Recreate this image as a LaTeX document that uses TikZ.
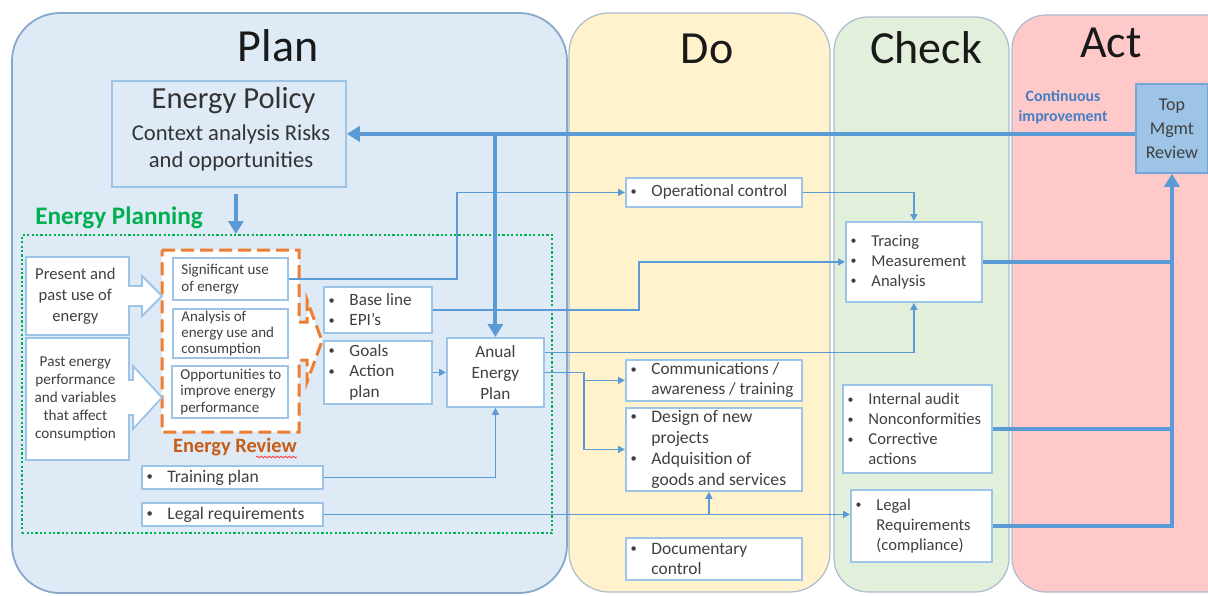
\documentclass[tikz,border=0pt]{standalone}
\usepackage{fontspec}
\usepackage{graphicx}
\setmainfont{Carlito}
\usetikzlibrary{arrows.meta,decorations.pathmorphing}

\definecolor{planbg}{RGB}{222,235,247}
\definecolor{dobg}{RGB}{255,242,204}
\definecolor{checkbg}{RGB}{226,239,218}
\definecolor{actbg}{RGB}{255,201,201}
\definecolor{planedge}{RGB}{135,168,202}
\definecolor{panelline}{RGB}{170,188,206}
\definecolor{boxline}{RGB}{157,195,230}
\definecolor{flow}{RGB}{91,155,213}
\definecolor{txt}{RGB}{64,64,64}
\definecolor{plangreen}{RGB}{0,176,80}
\definecolor{revorange}{RGB}{237,125,49}
\definecolor{revtext}{RGB}{200,92,22}
\definecolor{mgmtfill}{RGB}{157,195,230}
\definecolor{mgmtline}{RGB}{120,165,215}
\definecolor{contblue}{RGB}{68,126,196}

\newcommand\fs[2]{\fontsize{#1}{#2}\selectfont}
\newcommand\bu{\makebox[11pt][l]{\hspace*{0.6pt}\raisebox{0.2ex}{\scalebox{0.72}{\textbullet}}}}
\newcommand\hi{\hspace*{11pt}}
% white box with its corners given in pixel units: name, x1, y1, x2, y2, extra style
\newcommand\tbox[6]{%
  \node[bx,#6,anchor=north west,minimum width={(#4-#2)*0.5pt},minimum height={(#5-#3)*0.5pt}] (#1) at (#2,#3) {};}

\begin{document}
\begin{tikzpicture}[x=0.5pt,y=-0.5pt,
  panel/.style={draw=panelline, line width=0.6pt},
  bx/.style={draw=boxline, fill=white, line width=0.9pt, inner sep=0pt},
  lbl/.style={inner sep=0pt, text=txt, align=left, anchor=west},
  clbl/.style={inner sep=0pt, text=txt, align=center},
  title/.style={font=\fs{23}{28}, text=black!90, anchor=base, inner sep=0pt},
  flowline/.style={draw=flow, line width=0.8pt},
  flowarrow/.style={flowline, -{Triangle[length=3.5pt,width=3.5pt]}},
  bigline/.style={draw=flow, line width=2pt},
  bigarrow/.style={bigline, -{Triangle[length=6.5pt,width=7.5pt]}},
  revdash/.style={draw=revorange, line width=1.5pt, dash pattern=on 6.5pt off 3pt},
]
\useasboundingbox (0,0) rectangle (1208,595);
\clip (0,0) rectangle (1208,595);
\fill[white] (0,0) rectangle (1208,595);

% ---- the four PDCA columns ----
\draw[draw=planedge, line width=0.9pt, fill=planbg, rounded corners=24pt] (12,13) rectangle (567,593);
\draw[panel, fill=dobg, rounded corners=20pt] (569,13) rectangle (830,592);
\draw[panel, fill=checkbg, rounded corners=17pt] (834,17) rectangle (1009,592);
\draw[panel, fill=actbg, rounded corners=17pt] (1012,15) rectangle (1240,592);

\node[title] (tplan) at (278,61) {Plan};
\node[title] (tdo) at (707,63) {Do};
\node[title] (tcheck) at (926,63) {Check};
\node[title] (tact) at (1111,57) {Act};

% ---- energy policy ----
\node[bx, fill=none, anchor=north west, minimum width=117pt, minimum height=53pt] (ep) at (111,80) {};
\node[inner sep=0pt, anchor=base, text=black!80, font=\fs{15.3}{18}] (ep-t1) at (233.5,108) {Energy Policy};
\node[inner sep=0pt, anchor=base, text=black!80, font=\fs{11.3}{13}] (ep-t2) at (231,140) {Context analysis Risks};
\node[inner sep=0pt, anchor=base, text=black!80, font=\fs{11.3}{13}] (ep-t3) at (231,167) {and opportunities};

% ---- energy planning frame ----
\node[draw=plangreen, line width=1.1pt, dash pattern=on 1.1pt off 1.1pt, anchor=north west,
      minimum width=265pt, minimum height=149pt, inner sep=0pt] (epl) at (21,234) {};
\node[inner sep=0pt, anchor=base, text=plangreen, font=\bfseries\fs{12.6}{15}] (epl-t) at (119,224) {Energy Planning};
\draw[bigarrow] ([xshift=3.5pt,yshift=-3pt]ep.south) -- ([xshift=3.5pt]ep.south |- epl.north);

% ---- energy review ----
\draw[revdash, fill=white] (162,250) -- (299,250) -- (299,322) -- (307,322) -- (307,300) -- (322,341)
  -- (307,382) -- (307,360) -- (299,360) -- (299,432) -- (162,432) -- cycle;
\node[inner sep=0pt, anchor=base, text=revtext, font=\bfseries\fs{10.2}{12}] (rev-t) at (235,452) {Energy Review};
\draw[red!75, line width=0.4pt, decorate, decoration={snake, amplitude=0.45pt, segment length=2pt}] (256,457) -- (297,457);

\tbox{sig}{172}{257}{287}{299}{}
\tbox{ana}{172}{308}{287}{357}{}
\tbox{opp}{171}{365}{287}{417}{}
\node[lbl, font={\fs{7.5}{8.3}}] (sig-t) at ([xshift=4.5pt]sig.west) {Significant use\\of energy};
\node[lbl, font={\fs{7.5}{8.1}}] (ana-t) at ([xshift=4.5pt]ana.west) {Analysis of\\energy use and\\consumption};
\node[lbl, font={\fs{7.5}{8.1}}] (opp-t) at ([xshift=4.5pt]opp.west) {Opportunities to\\improve energy\\performance};

% ---- inputs to the review ----
\tbox{pres}{25}{256}{128}{334}{}
\tbox{past}{25}{337}{128}{459}{}
\node[clbl, font={\fs{8.3}{10.5}}] (pres-t) at ([xshift=-1pt]pres.center) {Present and\\past use of\\energy};
\node[clbl, font={\fs{7.6}{9}}] (past-t) at ([xshift=-1pt]past.center) {Past energy\\performance\\and variables\\that affect\\consumption};

\fill[white] (122,286) -- (142,286) -- (142,276) -- (162,296) -- (142,316) -- (142,306) -- (122,306) -- cycle;
\draw[boxline, line width=0.9pt] (128,286) -- (142,286) -- (142,276) -- (162,296) -- (142,316) -- (142,306) -- (128,306);
\fill[white] (122,380) -- (133,380) -- (133,366) -- (162,397.5) -- (133,429) -- (133,415) -- (122,415) -- cycle;
\draw[boxline, line width=0.9pt] (128,380) -- (133,380) -- (133,366) -- (162,397.5) -- (133,429) -- (133,415) -- (128,415);

% ---- planning outputs ----
\tbox{base}{323}{286}{431}{332}{}
\tbox{goals}{323}{340}{431}{403}{}
\tbox{anual}{446}{337}{543}{406}{}
\tbox{train}{141}{465}{322}{488}{}
\tbox{legal}{141}{502}{322}{525}{}
\node[lbl, font={\fs{8.6}{10}}] (base-t) at ([xshift=2pt]base.west) {\bu Base line\\\bu EPI’s};
\node[lbl, font={\fs{8.6}{10.3}}] (goals-t) at ([xshift=2pt]goals.west) {\bu Goals\\\bu Action\\\hi plan};
\node[clbl, font={\fs{8.6}{10.5}}] (anual-t) at (anual.center) {Anual\\Energy\\Plan};
\node[lbl, font={\fs{8.8}{10}}] (train-t) at ([xshift=2pt]train.west) {\bu Training plan};
\node[lbl, font={\fs{8.8}{10}}] (legal-t) at ([xshift=2pt]legal.west) {\bu Legal requirements};

% ---- do ----
\tbox{opc}{625}{177}{801}{206}{}
\tbox{comm}{625}{359}{801}{400}{}
\tbox{dsg}{625}{407}{801}{490}{}
\tbox{doc}{625}{537}{801}{579}{}
\node[lbl, font={\fs{8.6}{10}}] (opc-t) at ([xshift=2pt]opc.west) {\bu Operational control};
\node[lbl, font={\fs{8.6}{10}}] (comm-t) at ([xshift=2pt]comm.west) {\bu Communications /\\\hi awareness / training};
\node[lbl, font={\fs{8.8}{10.6}}] (dsg-t) at ([xshift=2pt]dsg.west) {\bu Design of new\\\hi projects\\\bu Adquisition of\\\hi goods and services};
\node[lbl, font={\fs{8.7}{10}}] (doc-t) at ([xshift=2pt]doc.west) {\bu Documentary\\\hi control};

% ---- check ----
\tbox{trc}{845}{221}{981}{301}{}
\tbox{iad}{842}{384}{991}{472}{}
\tbox{lgc}{850}{489}{991}{561}{}
\node[lbl, font={\fs{8.3}{10}}] (trc-t) at ([xshift=2pt]trc.west) {\bu Tracing\\\bu Measurement\\\bu Analysis};
\node[lbl, font={\fs{8.3}{10}}] (iad-t) at ([xshift=2pt]iad.west) {\bu Internal audit\\\bu Nonconformities\\\bu Corrective\\\hi actions};
\node[lbl, font={\fs{8.3}{10}}] (lgc-t) at ([xshift=2pt]lgc.west) {\bu Legal\\\hi Requirements\\\hi (compliance)};

% ---- act ----
\tbox{tmr}{1135}{83}{1207}{172}{fill=mgmtfill, draw=mgmtline}
\node[clbl, text=black!75, font={\fs{9}{12}}] (tmr-t) at (tmr.center) {Top\\Mgmt\\Review};
\node[inner sep=0pt, align=center, text=contblue, font=\bfseries\fs{7.9}{10}] (ci-t) at (1063,107) {Continuous\\improvement};

% ---- thin flows ----
\draw[flowarrow] (sig.east) -- ++(168,0) |- (opc.west);
\draw[flowarrow] (opc.east) -| (trc.north);
\draw[flowarrow] (base.east) -- ++(206,0) |- (trc.west);
\draw[flowarrow] ([yshift=10pt]anual.east) -| (trc.south);
\draw[flowarrow] (anual.east) -- ++(39,0) |- (comm.west);
\draw[flowarrow] (anual.east) -- ++(39,0) |- (dsg.west);
\draw[flowarrow] (goals.east) -- (anual.west);
\draw[flowarrow] (train.east) -| (anual.south);
\draw[flowarrow] (legal.east) -- (legal.east -| lgc.west);
\draw[flowarrow] ([xshift=-2.5pt]dsg.south |- legal.east) -- ([xshift=-2.5pt]dsg.south);

% ---- thick feedback flows ----
\draw[bigarrow] (tmr.west |- ep.east) -- (ep.east);
\draw[bigarrow] (anual.north |- ep.east) -- (anual.north);
\draw[bigarrow] (lgc.east) -| (tmr.south);
\draw[bigline] (trc.east) -- (trc.east -| tmr.south);
\draw[bigline] (iad.east) -- (iad.east -| tmr.south);
\end{tikzpicture}
\end{document}
